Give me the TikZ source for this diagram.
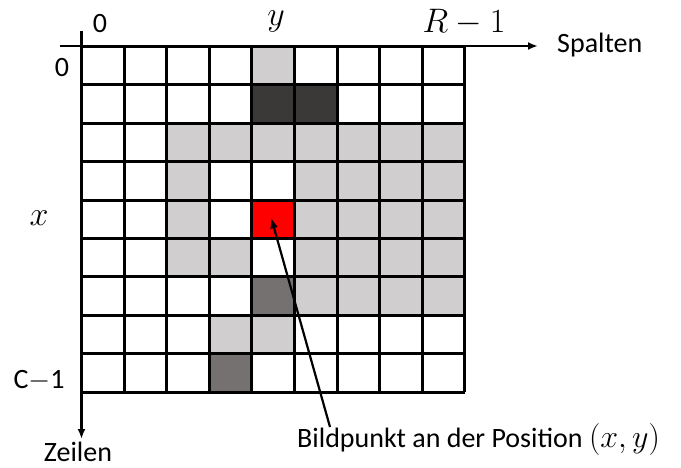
\RequirePackage{fix-cm}
\documentclass[tikz,border=0pt]{standalone}
\usepackage{fontspec}
\setmainfont{Carlito}
\usetikzlibrary{arrows.meta}
\definecolor{lgray}{HTML}{D0CECE}
\definecolor{dgray}{HTML}{3B3838}
\definecolor{mgray}{HTML}{767171}
\definecolor{pxred}{HTML}{FF0000}
\begin{document}
\begin{tikzpicture}[x=1pt,y=-1pt,
  gridline/.style={line width=3pt,black},
  axisline/.style={line width=2.6pt,black,-{Latex[length=10pt,width=8pt]}},
  lbl/.style={font=\fontsize{28}{30}\selectfont,inner sep=0pt},
  mlbl/.style={font=\fontsize{34}{36}\selectfont,inner sep=0pt}]
\useasboundingbox (0,0) rectangle (681,468);
\def\ox{81.5}\def\oy{46.5}\def\cw{42.6}\def\ch{38.4}
% filled cells: col/row/colour
\foreach \c/\r/\col in {4/0/lgray,4/1/dgray,5/1/dgray,
  2/2/lgray,3/2/lgray,4/2/lgray,5/2/lgray,6/2/lgray,7/2/lgray,8/2/lgray,
  2/3/lgray,5/3/lgray,6/3/lgray,7/3/lgray,8/3/lgray,
  2/4/lgray,4/4/pxred,5/4/lgray,6/4/lgray,7/4/lgray,8/4/lgray,
  2/5/lgray,3/5/lgray,5/5/lgray,6/5/lgray,7/5/lgray,8/5/lgray,
  4/6/mgray,5/6/lgray,6/6/lgray,7/6/lgray,8/6/lgray,
  3/7/lgray,4/7/lgray,3/8/mgray}
  \fill[\col] ({\ox+\c*\cw},{\oy+\r*\ch}) rectangle ({\ox+(\c+1)*\cw},{\oy+(\r+1)*\ch});
% grid lines
\foreach \i in {0,...,9}{
  \draw[gridline] ({\ox+\i*\cw},\oy) -- ({\ox+\i*\cw},{\oy+9*\ch});
  \draw[gridline] (\ox,{\oy+\i*\ch}) -- ({\ox+9*\cw},{\oy+\i*\ch});
}
\coordinate (redcell) at ({\ox+4.45*\cw},{\oy+4.45*\ch});
% axes
\coordinate (hstart) at (60,46);
\coordinate (hend) at (538,46);
\coordinate (vstart) at (\ox,31);
\coordinate (vend) at (\ox,439);
\draw[axisline] (hstart) -- (hend);
\draw[axisline] (vstart) -- (vend);
% labels
\node[lbl,anchor=base] (c0) at (100,33) {0};
\node[mlbl,anchor=base] (cy) at (276,26) {$y$};
\node[mlbl,anchor=base] (cR) at (464,33) {$R-1$};
\node[lbl,anchor=base west] (spalten) at (557,53) {Spalten};
\node[lbl,anchor=base] (r0) at (62,77) {0};
\node[mlbl,anchor=base] (rx) at (39,226) {$x$};
\node[lbl,anchor=base] (rC) at (39,388) {C$-$1};
\node[lbl,anchor=base] (zeilen) at (78,461) {Zeilen};
\node[lbl,anchor=base west] (bild) at (297,447) {Bildpunkt an der Position {\fontsize{32}{34}\selectfont$(x,y)$}};
\draw[line width=2.2pt,-{Latex[length=11pt,width=8pt]}] (330,427) -- (redcell);
\end{tikzpicture}
\end{document}
